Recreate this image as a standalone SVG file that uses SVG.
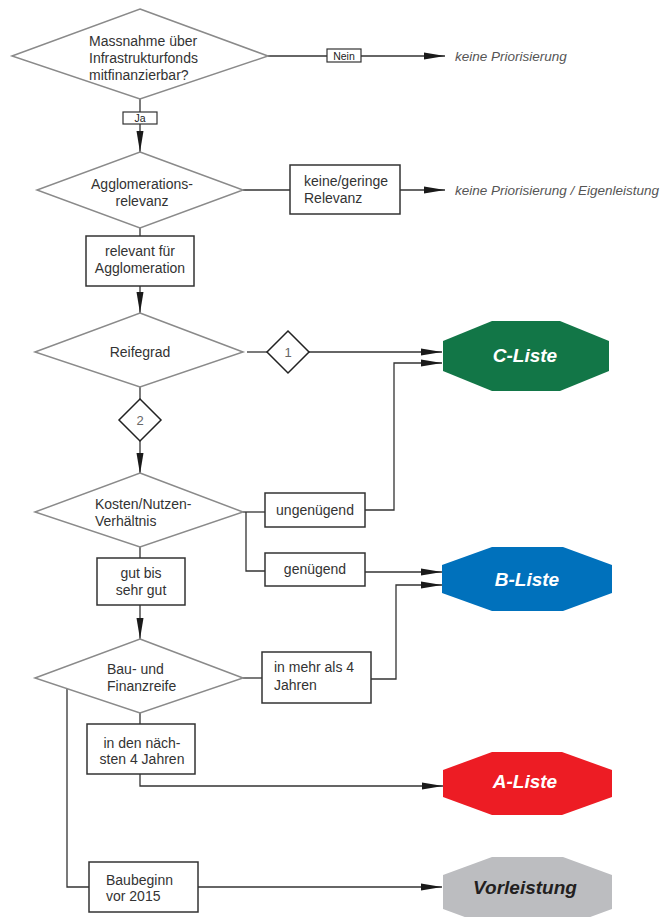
<svg xmlns="http://www.w3.org/2000/svg" width="662" height="917" viewBox="0 0 662 917">
<style>
  text { font-family: "Liberation Sans", Arial, sans-serif; font-size: 14px; fill: #333; }
  .c { text-anchor: middle; }
  .it { font-style: italic; fill: #555; font-size: 13.5px; }
  .small { font-size: 10.5px; fill: #222; }
  .num { font-size: 13px; fill: #666; text-anchor: middle; }
  .dia { fill: #fff; stroke: #8a8a8a; stroke-width: 1.5; }
  .box { fill: #fff; stroke: #333; stroke-width: 1.5; }
  .sdia { fill: #fff; stroke: #222; stroke-width: 1.5; }
  .conn { fill: none; stroke: #333; stroke-width: 1.3; }
  .lbl { font-size: 19px; font-weight: bold; font-style: italic; fill: #fff; text-anchor: middle; }
</style>
<defs>
  <marker id="arr" markerUnits="userSpaceOnUse" markerWidth="22" markerHeight="8" refX="21" refY="4" orient="auto">
    <path d="M0,0.5 L21,4 L0,7.5 z" fill="#1a1a1a"/>
  </marker>
</defs>
<rect width="662" height="917" fill="#fff"/>

<g id="connectors">
  <path class="conn" d="M268,56 H327"/>
  <path class="conn" d="M361,56 H445" marker-end="url(#arr)"/>
  <path class="conn" d="M140,99 V112"/>
  <path class="conn" d="M140,124 V152" marker-end="url(#arr)"/>
  <path class="conn" d="M243,190 H290"/>
  <path class="conn" d="M400,190 H445" marker-end="url(#arr)"/>
  <path class="conn" d="M140,228 V236"/>
  <path class="conn" d="M140,286 V313" marker-end="url(#arr)"/>
  <path class="conn" d="M247,352 H267"/>
  <path class="conn" d="M309,352 H442" marker-end="url(#arr)"/>
  <path class="conn" d="M140,387 V399"/>
  <path class="conn" d="M140,441 V474" marker-end="url(#arr)"/>
  <path class="conn" d="M243,512 H265"/>
  <path class="conn" d="M246,512 V571 H265"/>
  <path class="conn" d="M365,510 H394 V363 H442" marker-end="url(#arr)"/>
  <path class="conn" d="M365,572 H442" marker-end="url(#arr)"/>
  <path class="conn" d="M140,547 V558"/>
  <path class="conn" d="M140,605 V639" marker-end="url(#arr)"/>
  <path class="conn" d="M243,678 H262"/>
  <path class="conn" d="M371,679 H396 V585 H442" marker-end="url(#arr)"/>
  <path class="conn" d="M140,713 V724"/>
  <path class="conn" d="M140,774 V786 H443" marker-end="url(#arr)"/>
  <path class="conn" d="M67,689 V887 H89"/>
  <path class="conn" d="M198,887 H442" marker-end="url(#arr)"/>
</g>

<g id="d-massnahme">
  <polygon class="dia" points="140,9 268,56 140,99 12,56"/>
  <text x="89" y="46">Massnahme über</text>
  <text x="89" y="63">Infrastrukturfonds</text>
  <text x="89" y="80">mitfinanzierbar?</text>
</g>
<g id="l-nein">
  <rect class="box" x="327" y="49" width="34" height="13" style="stroke-width:1.2"/>
  <text class="small c" x="344" y="59.5">Nein</text>
</g>
<g id="t-keine1">
  <text class="it" x="455" y="61">keine Priorisierung</text>
</g>
<g id="l-ja">
  <rect class="box" x="123" y="112" width="34" height="12" style="stroke-width:1.2"/>
  <text class="small c" x="140" y="122">Ja</text>
</g>

<g id="d-agglo">
  <polygon class="dia" points="140,152 243,190 140,228 37,190"/>
  <text class="c" x="142" y="189">Agglomerations-</text>
  <text class="c" x="142" y="206">relevanz</text>
</g>
<g id="b-keine">
  <rect class="box" x="290" y="165" width="110" height="49"/>
  <text x="304" y="186">keine/geringe</text>
  <text x="304" y="203">Relevanz</text>
</g>
<g id="t-keine2">
  <text class="it" x="455" y="195">keine Priorisierung / Eigenleistung</text>
</g>
<g id="b-relevant">
  <rect class="box" x="86" y="236" width="108" height="50"/>
  <text class="c" x="140" y="256">relevant für</text>
  <text class="c" x="140" y="273">Agglomeration</text>
</g>

<g id="d-reife">
  <polygon class="dia" points="140,313 243,352 140,387 35,352"/>
  <text class="c" x="140" y="357">Reifegrad</text>
</g>
<g id="s1">
  <polygon class="sdia" points="288,331 309,352 288,373 267,352"/>
  <text class="num" x="288" y="357">1</text>
</g>
<g id="s2">
  <polygon class="sdia" points="140,399 161,420 140,441 119,420"/>
  <text class="num" x="140" y="425">2</text>
</g>

<g id="d-kosten">
  <polygon class="dia" points="140,473 243,512 140,547 35,512"/>
  <text x="95" y="509">Kosten/Nutzen-</text>
  <text x="95" y="526">Verhältnis</text>
</g>
<g id="b-ungen">
  <rect class="box" x="265" y="493" width="100" height="34"/>
  <text class="c" x="315" y="515">ungenügend</text>
</g>
<g id="b-gen">
  <rect class="box" x="265" y="553" width="100" height="33"/>
  <text class="c" x="315" y="574">genügend</text>
</g>
<g id="b-gut">
  <rect class="box" x="97" y="558" width="88" height="47"/>
  <text class="c" x="141" y="578">gut bis</text>
  <text class="c" x="141" y="595">sehr gut</text>
</g>

<g id="d-bau">
  <polygon class="dia" points="140,639 243,678 140,713 35,678"/>
  <text x="107" y="674">Bau- und</text>
  <text x="107" y="691">Finanzreife</text>
</g>
<g id="b-mehr">
  <rect class="box" x="262" y="652" width="109" height="51"/>
  <text x="274" y="672">in mehr als 4</text>
  <text x="274" y="690">Jahren</text>
</g>
<g id="b-naechsten">
  <rect class="box" x="87" y="724" width="108" height="50"/>
  <text class="c" x="142" y="748">in den näch-</text>
  <text class="c" x="142" y="764">sten 4 Jahren</text>
</g>
<g id="b-baubeginn">
  <rect class="box" x="89" y="862" width="109" height="50"/>
  <text x="106" y="885">Baubeginn</text>
  <text x="106" y="901">vor 2015</text>
</g>

<g id="c-liste">
  <polygon fill="#127647" points="492,321 560,321 609,341 609,371 560,391 492,391 443,371 443,341"/>
  <text class="lbl" x="525" y="362">C-Liste</text>
</g>
<g id="b-liste">
  <polygon fill="#0071bc" points="492,547 563,547 612,565 612,593 563,611 492,611 442,593 442,565"/>
  <text class="lbl" x="527" y="586">B-Liste</text>
</g>
<g id="a-liste">
  <polygon fill="#ed1c24" points="492,752 562,752 612,770 612,797 562,815 492,815 443,797 443,770"/>
  <text class="lbl" x="525" y="788">A-Liste</text>
</g>
<g id="vorleistung">
  <polygon fill="#bcbdc0" points="492,857 563,857 612,875 612,909 563,927 492,927 443,909 443,875"/>
  <text class="lbl" x="525" y="894" style="fill:#231f20">Vorleistung</text>
</g>
</svg>
